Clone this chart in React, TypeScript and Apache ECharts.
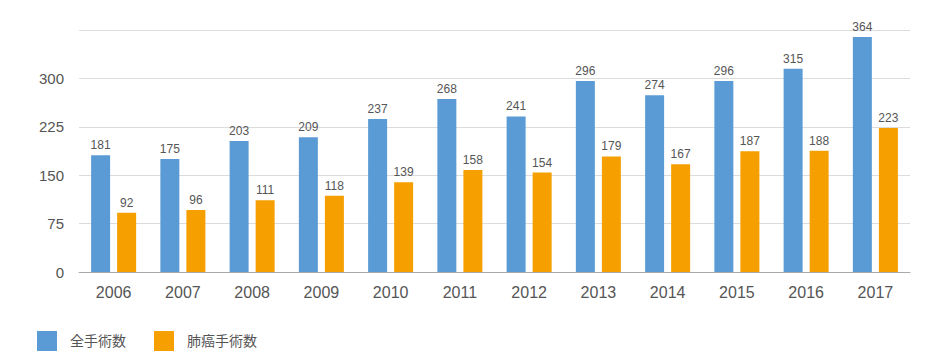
import React, { useEffect, useRef } from "react";
import * as echarts from "echarts";

const years = ["2006", "2007", "2008", "2009", "2010", "2011", "2012", "2013", "2014", "2015", "2016", "2017"];
const allSurgery = [181, 175, 203, 209, 237, 268, 241, 296, 274, 296, 315, 364];
const lungCancer = [92, 96, 111, 118, 139, 158, 154, 179, 167, 187, 188, 223];
const seriesNames = ["全手術数", "肺癌手術数"];

const FONT = "'Liberation Sans', 'Noto Sans CJK JP', sans-serif";

export default function App() {
  const ref = useRef<HTMLDivElement>(null);
  useEffect(() => {
    if (!ref.current) return;
    const chart = echarts.init(ref.current, null, { renderer: "svg" });
    const label = {
      show: true,
      position: "top",
      distance: 4,
      color: "#555",
      fontSize: 12,
      fontFamily: FONT,
    };
    chart.setOption({
      animation: false,
      textStyle: { fontFamily: FONT },
      grid: { left: 79, right: 30, top: 30, bottom: 88 },
      legend: {
        left: 37,
        top: 331,
        padding: 0,
        itemWidth: 20,
        itemHeight: 20,
        itemGap: 28,
        icon: "rect",
        textStyle: { fontSize: 14, color: "#555", fontFamily: FONT, padding: [0, 0, 0, 8] },
        data: seriesNames,
      },
      xAxis: {
        type: "category",
        data: years,
        axisTick: { show: false },
        axisLine: { lineStyle: { color: "#aaa", width: 1 } },
        axisLabel: { color: "#555", fontSize: 16, margin: 12, fontFamily: FONT },
      },
      yAxis: {
        type: "value",
        min: 0,
        max: 375,
        interval: 75,
        axisLine: { show: false },
        axisTick: { show: false },
        splitLine: { lineStyle: { color: "#dcdcdc", width: 1 } },
        axisLabel: {
          color: "#555",
          fontSize: 15,
          margin: 15,
          fontFamily: FONT,
          formatter: (v: number) => (v === 375 ? "" : String(v)),
        },
      },
      series: [
        {
          name: seriesNames[0],
          type: "bar",
          data: allSurgery,
          barWidth: 19,
          barGap: "37%",
          itemStyle: { color: "#5b9bd5" },
          label,
        },
        {
          name: seriesNames[1],
          type: "bar",
          data: lungCancer,
          barWidth: 19,
          itemStyle: { color: "#f5a000" },
          label,
        },
      ],
    });
    return () => chart.dispose();
  }, []);
  return <div ref={ref} style={{ position: "absolute", left: 0, top: 0, width: 940, height: 360 }} />;
}
